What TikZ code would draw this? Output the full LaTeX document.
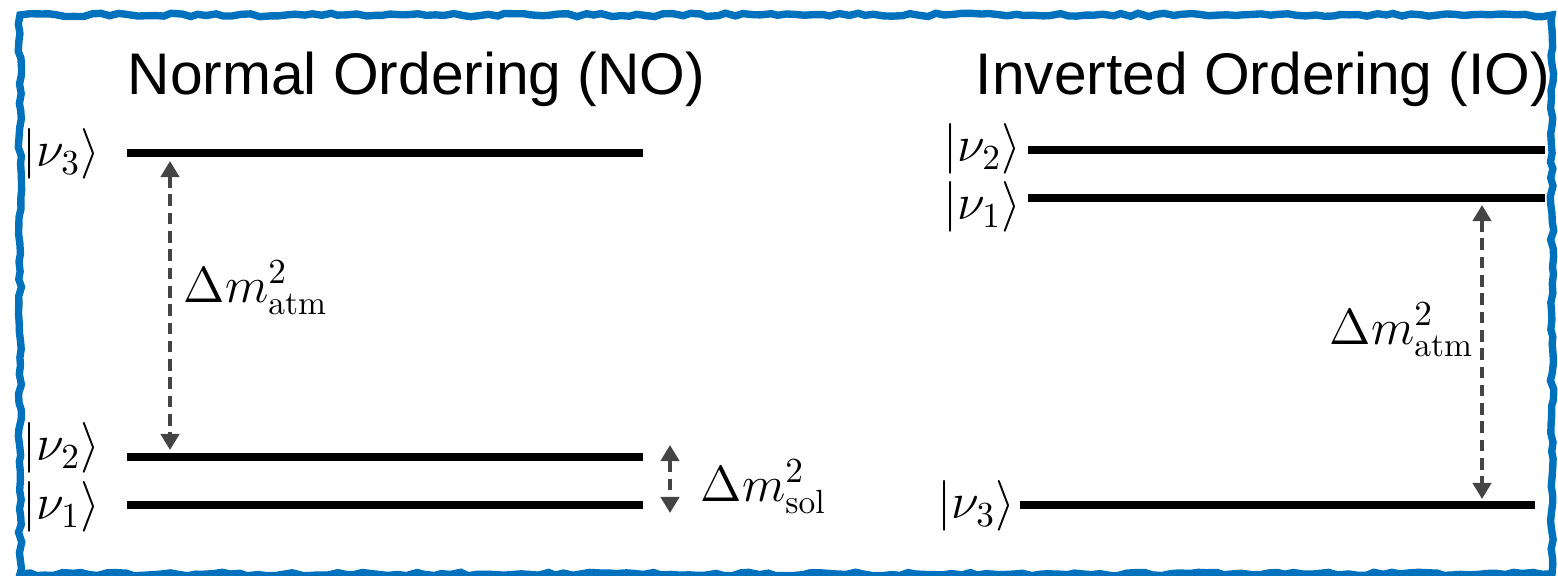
\documentclass[tikz,border=0pt]{standalone}
\usepackage{amsmath,amssymb}
\usepackage{fontspec}
\newfontfamily\titlefont{Liberation Sans}
\usepackage{tikz}
\usetikzlibrary{arrows.meta,decorations.pathmorphing}

\definecolor{frameblue}{RGB}{0,114,189}
\definecolor{gapgray}{RGB}{68,68,68}

\tikzset{
  level/.style={line width=2.4pt, line cap=butt},
  ket/.style={anchor=east, inner sep=0pt, font=\fontsize{13.6}{16}\selectfont},
  splitlab/.style={anchor=west, inner sep=0pt, font=\fontsize{13.6}{16}\selectfont},
  title/.style={anchor=base west, inner sep=0pt, font=\titlefont\fontsize{16.7}{20}\selectfont},
  gap/.style={gapgray, line width=1.1pt, dash pattern=on 3.3pt off 1.9pt,
    {Triangle[width=5.2pt,length=4.6pt]}-{Triangle[width=5.2pt,length=4.6pt]}}
}

\begin{document}
\begin{tikzpicture}[x=0.01cm, y=-0.01cm]
  \useasboundingbox (0,0) rectangle (1558,576);

  % Rahmen
  \draw[frameblue, line width=2.1pt, decorate,
    decoration={random steps, segment length=2.5pt, amplitude=0.5pt}]
    (20,15) rectangle (1552,574);

  % Normal Ordering
  \node[title] (tno) at (127,95) {Normal Ordering (NO)};
  \coordinate (N3a) at (127,153);
  \coordinate (N3b) at (643,153);
  \coordinate (N2a) at (127,457);
  \coordinate (N2b) at (643,457);
  \coordinate (N1a) at (127,505);
  \coordinate (N1b) at (643,505);

  \draw[level] (N3a) -- (N3b);
  \draw[level] (N2a) -- (N2b);
  \draw[level] (N1a) -- (N1b);

  \node[ket] (kn3) at (101,154) {$|\nu_3\rangle$};
  \node[ket] (kn2) at (101,448) {$|\nu_2\rangle$};
  \node[ket] (kn1) at (101,507) {$|\nu_1\rangle$};

  \coordinate (atmTop) at (170,161);
  \coordinate (atmBot) at (170,450);
  \draw[gap] (atmTop) -- (atmBot);
  \node[splitlab] (latm) at (183,288) {$\Delta m^2_{\mathrm{atm}}$};

  \coordinate (solTop) at (670,445);
  \coordinate (solBot) at (670,513);
  \draw[gap] (solTop) -- (solBot);
  \node[splitlab] (lsol) at (700,487) {$\Delta m^2_{\mathrm{sol}}$};

  % Inverted Ordering
  \node[title] (tio) at (975,95) {Inverted Ordering (IO)};
  \coordinate (I2a) at (1028,150);
  \coordinate (I2b) at (1545,150);
  \coordinate (I1a) at (1028,198);
  \coordinate (I1b) at (1545,198);
  \coordinate (I3a) at (1020,505);
  \coordinate (I3b) at (1535,505);

  \draw[level] (I2a) -- (I2b);
  \draw[level] (I1a) -- (I1b);
  \draw[level] (I3a) -- (I3b);

  \node[ket] (ki2) at (1022,149) {$|\nu_2\rangle$};
  \node[ket] (ki1) at (1022,207) {$|\nu_1\rangle$};
  \node[ket] (ki3) at (1016,506) {$|\nu_3\rangle$};

  \coordinate (iatmTop) at (1482,205);
  \coordinate (iatmBot) at (1482,499);
  \draw[gap] (iatmTop) -- (iatmBot);
  \node[splitlab] (liatm) at (1329,330) {$\Delta m^2_{\mathrm{atm}}$};
\end{tikzpicture}
\end{document}
